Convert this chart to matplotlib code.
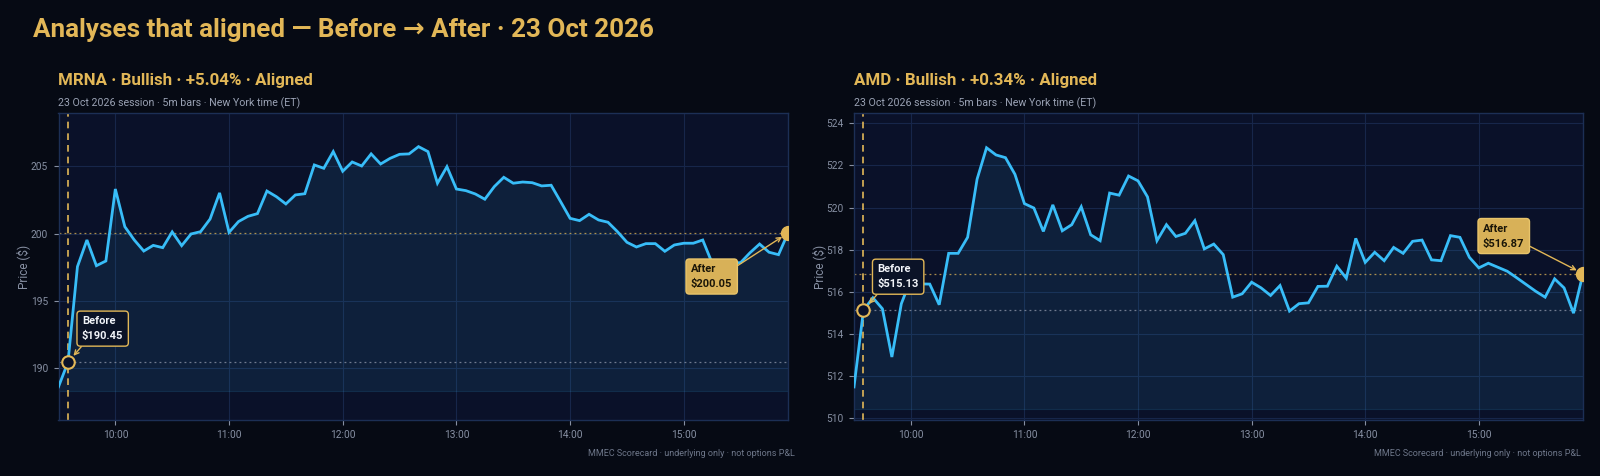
import numpy as np
import matplotlib
matplotlib.use("Agg")
import matplotlib.pyplot as plt

plt.rcParams['font.family'] = ['Roboto', 'DejaVu Sans']

# ---------------- data ----------------
title = "Analyses that aligned \u2014 Before \u2192 After \u00b7 23 Oct 2026"
subtitle = "23 Oct 2026 session \u00b7 5m bars \u00b7 New York time (ET)"
footer = "MMEC Scorecard \u00b7 underlying only \u00b7 not options P&L"

tickers = ["MRNA", "AMD"]
headlines = ["MRNA \u00b7 Bullish \u00b7 +5.04% \u00b7 Aligned",
             "AMD \u00b7 Bullish \u00b7 +0.34% \u00b7 Aligned"]

mrna_prices = [188.62, 190.45, 197.55, 199.53, 197.62, 197.97, 203.32, 200.52, 199.53, 198.71,
               199.13, 198.96, 200.13, 199.11, 199.98, 200.15, 201.09, 203.03, 200.10, 200.90,
               201.29, 201.49, 203.17, 202.75, 202.21, 202.88, 202.97, 205.11, 204.86, 206.10,
               204.64, 205.33, 205.03, 205.93, 205.18, 205.60, 205.90, 205.93, 206.47, 206.10,
               203.75, 204.98, 203.32, 203.20, 202.95, 202.56, 203.50, 204.19, 203.75, 203.84,
               203.79, 203.55, 203.60, 202.38, 201.14, 200.97, 201.44, 201.02, 200.85, 200.15,
               199.36, 199.01, 199.26, 199.26, 198.69, 199.16, 199.29, 199.29, 199.53, 197.80,
               197.70, 197.80, 197.85, 198.59, 199.23, 198.62, 198.44, 200.05]

amd_prices = [511.49, 515.13, 515.72, 515.20, 512.91, 515.44, 516.60, 516.38, 516.37, 515.39,
              517.83, 517.83, 518.59, 521.35, 522.84, 522.50, 522.37, 521.58, 520.19, 519.98,
              518.87, 520.13, 518.90, 519.19, 520.04, 518.71, 518.43, 520.69, 520.59, 521.50,
              521.27, 520.51, 518.43, 519.19, 518.63, 518.78, 519.38, 518.04, 518.27, 517.77,
              515.75, 515.91, 516.46, 516.19, 515.83, 516.30, 515.09, 515.44, 515.48, 516.26,
              516.27, 517.22, 516.65, 518.54, 517.40, 517.88, 517.48, 518.11, 517.83, 518.40,
              518.46, 517.52, 517.48, 518.67, 518.59, 517.64, 517.14, 517.36, 517.17, 516.98,
              516.67, 516.35, 516.03, 515.75, 516.62, 516.19, 514.99, 516.87]

before_prices = [190.45, 515.13]
after_prices = [200.05, 516.87]
before_index = [1, 1]

y_limits = [(186.15, 208.97), (509.92, 524.49)]
fill_base = [188.30, 510.44]
y_ticks = [[190, 195, 200, 205], [510, 512, 514, 516, 518, 520, 522, 524]]

x_tick_labels = ["10:00", "11:00", "12:00", "13:00", "14:00", "15:00"]

# ---------------- style ----------------
BG = "#060a14"
AX_BG = "#0a1129"
LINE = "#38bdf8"
GOLD = "#e2b757"
GRID = "#17264a"
SPINE = "#1c2f55"
TICK = "#8790a3"
SUB = "#9aa2b4"

fig = plt.figure(figsize=(16, 4.76), dpi=100, facecolor=BG)

fig.text(33 / 1600, 1 - 36.7 / 476, title, color=GOLD, fontsize=18.75,
         fontweight='bold', ha='left', va='baseline')

axes_rects = [[58.5 / 1600, 56 / 476, 729.5 / 1600, 307 / 476],
              [854 / 1600, 56 / 476, 729 / 1600, 307 / 476]]
footer_x = [795 / 1600, 1581 / 1600]
after_offsets = [(-97, -31), (-100, 25)]
after_va = ['top', 'bottom']

series = [mrna_prices, amd_prices]
session_start_min = 9 * 60 + 30
bar_min = 5

for k in range(2):
    prices = np.array(series[k])
    x = session_start_min + bar_min * np.arange(len(prices))
    ax = fig.add_axes(axes_rects[k])
    ax.set_facecolor(AX_BG)
    for s in ax.spines.values():
        s.set_color(SPINE)
        s.set_linewidth(1.0)
    ax.set_xlim(x[0], x[-1])
    ax.set_ylim(*y_limits[k])
    ax.set_yticks(y_ticks[k])
    xt = [(10 + j) * 60 for j in range(len(x_tick_labels))]
    ax.set_xticks(xt)
    ax.set_xticklabels(x_tick_labels)
    ax.grid(True, color=GRID, lw=0.8)
    ax.set_axisbelow(True)
    ax.tick_params(colors=TICK, labelsize=7.3, length=3.5, width=0.8, pad=4)
    for t in ax.get_xticklabels() + ax.get_yticklabels():
        t.set_color(TICK)

    ax.fill_between(x, prices, fill_base[k], color=LINE, alpha=0.09, lw=0, zorder=1)
    ax.axhline(fill_base[k], color=LINE, alpha=0.12, lw=0.8, zorder=1)
    ax.plot(x, prices, color=LINE, lw=2.0, zorder=3, solid_joinstyle='miter')

    xb = x[before_index[k]]
    ax.axvline(xb, color=GOLD, lw=1.2, ls=(0, (4, 3)), zorder=2)
    ax.axhline(before_prices[k], color="#8a93a6", lw=0.9, ls=(0, (1.5, 2.5)), alpha=0.8, zorder=2)
    ax.axhline(after_prices[k], color=GOLD, lw=0.9, ls=(0, (1.5, 2.5)), alpha=0.75, zorder=2)

    ax.plot([xb], [before_prices[k]], marker='o', ms=9, mfc=AX_BG, mec=GOLD, mew=1.5, zorder=5)
    ax.plot([x[-1]], [after_prices[k]], marker='o', ms=10, mfc=GOLD, mec=GOLD, zorder=5, clip_on=True)

    ax.annotate(f"Before\n${before_prices[k]:.2f}", xy=(xb, before_prices[k]),
                xytext=(14, 21), textcoords='offset pixels', ha='left', va='bottom',
                color="#f1f3f8", fontsize=8, fontweight='bold', linespacing=1.6,
                bbox=dict(boxstyle='round,pad=0.45,rounding_size=0.3', fc="#0b1327", ec=GOLD, lw=1),
                arrowprops=dict(arrowstyle='->', color=GOLD, lw=1, shrinkA=0, shrinkB=6,
                                relpos=(0.1, 0.0)), zorder=6)
    ax.annotate(f"After\n${after_prices[k]:.2f}", xy=(x[-1], after_prices[k]),
                xytext=after_offsets[k], textcoords='offset pixels', ha='left', va=after_va[k],
                color="#1b1608", fontsize=8, fontweight='bold', linespacing=1.6,
                bbox=dict(boxstyle='round,pad=0.45,rounding_size=0.3', fc="#d8b158", ec="#e8c46a", lw=1),
                arrowprops=dict(arrowstyle='->', color=GOLD, lw=1, shrinkA=0, shrinkB=5,
                                relpos=(1.0, 0.8 if k == 0 else 0.2)), zorder=6,
                annotation_clip=False)

    ax.set_ylabel("Price ($)", color=TICK, fontsize=8.5)
    ax.yaxis.set_label_coords(-28 / (axes_rects[k][2] * 1600), 0.5)

    left = axes_rects[k][0]
    fig.text(left, 1 - 80.5 / 476, headlines[k], color=GOLD, fontsize=12.2, fontweight='bold',
             ha='left', va='center')
    fig.text(left, 1 - 103 / 476, subtitle, color=SUB, fontsize=7.65, ha='left', va='center')
    fig.text(footer_x[k], 1 - 453 / 476, footer, color="#6d7689", fontsize=6.5,
             ha='right', va='center')

fig.savefig("out.png", dpi=100, facecolor=BG)
